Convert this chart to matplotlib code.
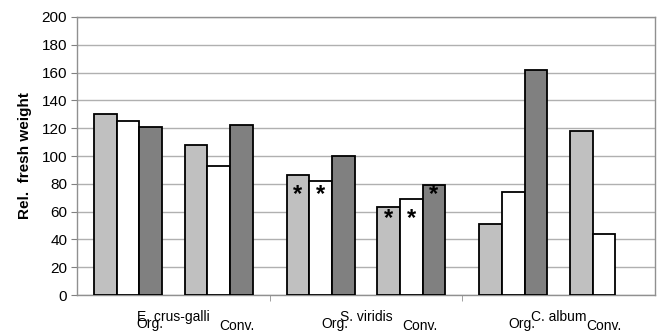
import matplotlib.pyplot as plt
import numpy as np

plt.rcParams['font.family'] = ['Liberation Sans', 'DejaVu Sans']

species = ['E. crus-galli', 'S. viridis', 'C. album']
systems = ['Org.', 'Conv.']
# three bar series per species/system block (light, white, dark); None = no bar
light = [[130, 108], [86, 63], [51, 118]]
white = [[125, 93], [82, 69], [74, 44]]
dark = [[121, 122], [100, 79], [162, None]]
# significance stars: (species, system, series index, height)
stars = [(1, 0, 0, 72), (1, 0, 1, 72), (1, 1, 0, 55), (1, 1, 1, 55), (1, 1, 2, 72)]

colors = ['#c0c0c0', '#ffffff', '#808080']
group_w = 8.5

fig = plt.figure(figsize=(6.57, 3.33), dpi=100)
ax = fig.add_axes([0.117, 0.114, 0.880, 0.835])


def bar_x(g, s, k):
    return g * group_w + 0.75 + s * 4 + k + 0.5


for k, series in enumerate([light, white, dark]):
    for g in range(3):
        for s in range(2):
            v = series[g][s]
            if v is None:
                continue
            ax.bar(bar_x(g, s, k), v, width=1.0, color=colors[k],
                   edgecolor='black', linewidth=1.3, zorder=3)

for g, s, k, h in stars:
    ax.text(bar_x(g, s, k), h, '*', ha='center', va='center',
            fontsize=17, fontweight='bold', zorder=4)

ax.set_xlim(0, 3 * group_w)
ax.set_ylim(0, 200)
ax.set_yticks(np.arange(0, 201, 20))
ax.yaxis.grid(True, color='#b0b0b0', linewidth=1.0, zorder=0)
ax.set_axisbelow(True)
ax.tick_params(axis='y', labelsize=11, length=4, color='#808080', pad=3)
ax.set_xticks([])
ax.set_xticks([group_w, 2 * group_w], minor=True)
ax.tick_params(axis='x', which='minor', length=4, color='#909090', labelbottom=False)
for sp in ax.spines.values():
    sp.set_color('#909090')
    sp.set_linewidth(1.0)

ax.set_ylabel('Rel.  fresh weight', fontsize=11, fontweight='bold', labelpad=7)

trans = ax.get_xaxis_transform()
org_dx = [-1.04, -1.39, -1.61]
conv_dx = [2.8, 2.38, 2.0]
for g, name in enumerate(species):
    cx = g * group_w + group_w / 2
    ax.text(cx, -0.092, name, transform=trans, ha='center', va='baseline', fontsize=10)
    ax.text(cx + org_dx[g], -0.12, systems[0], transform=trans, ha='center', va='baseline', fontsize=10)
    ax.text(cx + conv_dx[g], -0.124, systems[1], transform=trans, ha='center', va='baseline', fontsize=10)

fig.savefig('out.png', dpi=100)
